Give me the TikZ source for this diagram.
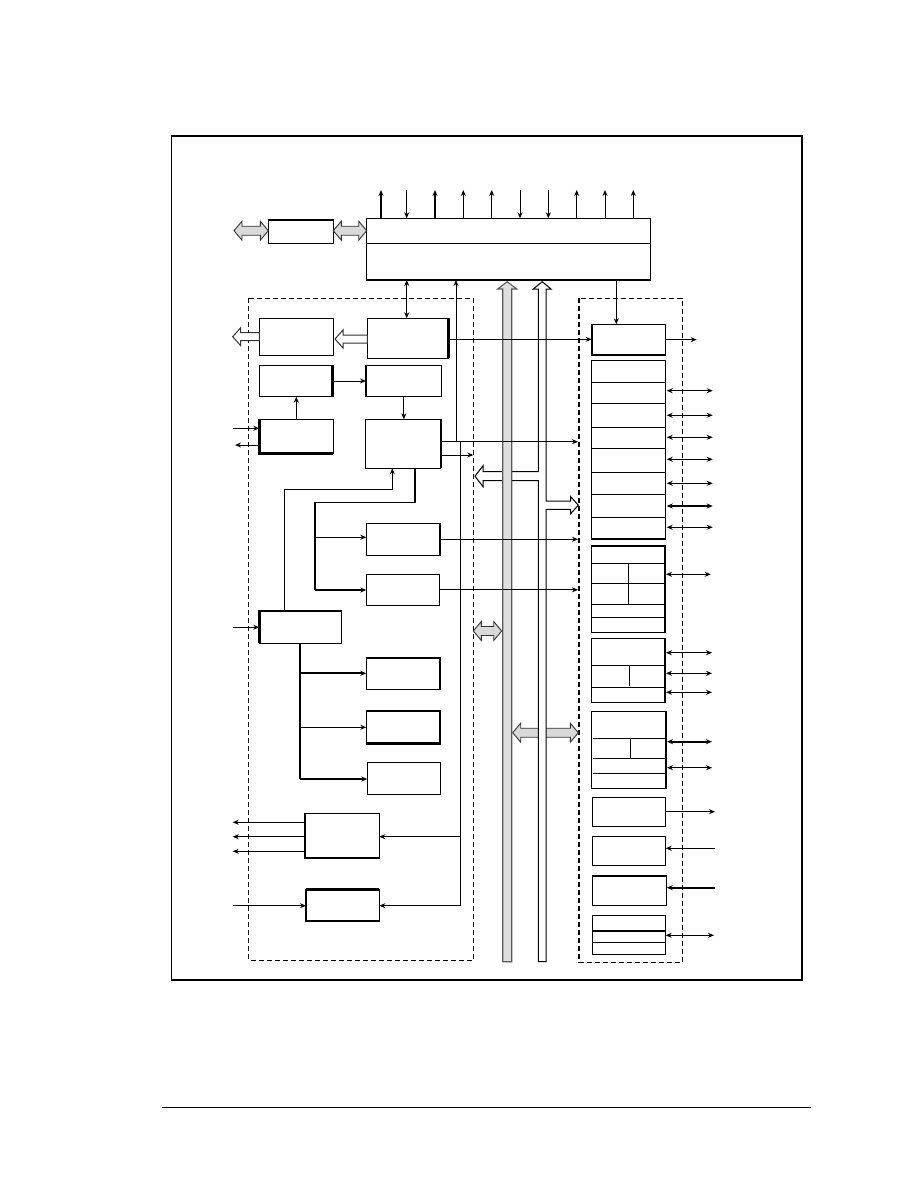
\documentclass[tikz,border=0pt]{standalone}
\usetikzlibrary{arrows.meta}
\newcommand{\bx}[5]{\node[box, anchor=north west, minimum width={#4-#2}, minimum height={#5-#3}] (#1) at (#2,#3) {};}
\newcommand{\hdarrow}[3]{\filldraw[fill=gray!30, draw=black!80, line width=0.9] (#1,#3) -- ({#1+8},{#3-9.5}) -- ({#1+8},{#3-4.5}) -- ({#2-8},{#3-4.5}) -- ({#2-8},{#3-9.5}) -- (#2,#3) -- ({#2-8},{#3+9.5}) -- ({#2-8},{#3+4.5}) -- ({#1+8},{#3+4.5}) -- ({#1+8},{#3+9.5}) -- cycle;}
\newcommand{\lwarrow}[3]{\filldraw[fill=white, draw=black!80, line width=1] (#1,#3) -- ({#1+8},{#3-9}) -- ({#1+8},{#3-4}) -- (#2,{#3-4}) -- (#2,{#3+4}) -- ({#1+8},{#3+4}) -- ({#1+8},{#3+9}) -- cycle;}
\tikzset{
  box/.style={draw, line width=1.1, inner sep=0pt, outer sep=0pt, fill=white},
  thk/.style={line width=2.4},
  ln/.style={line width=0.9},
  arr/.style={ln, -{Stealth[length=6pt,width=5pt]}},
  darr/.style={ln, {Stealth[length=6pt,width=5pt]}-{Stealth[length=6pt,width=5pt]}},
  dbox/.style={dashed, line width=1, dash pattern=on 5pt off 3pt},
  route/.style={line width=1.3},
}
\begin{document}
\begin{tikzpicture}[x=1pt, y=-1pt]
\useasboundingbox (0,0) rectangle (918,1188);
% outer frame and footer
\draw[line width=1.2] (171.5,136) rectangle (802,980);
\draw[line width=1] (162,1107) -- (811,1107);
% dashed groups
\draw[dbox] (248.3,298.3) rectangle (473.3,960);
\draw[dbox, line width=1.4] (579,298.3) rectangle (682.3,962.7);
% top blocks
\bx{top}{366.7}{218.3}{650.3}{280}
\draw[ln] (top.west |- 0,243.3) -- (top.east |- 0,243.3);
\bx{sm}{268.3}{220}{333.3}{243.3}
\draw[thk] (sm.north west) -- (sm.north east);
% left group boxes
\bx{A}{259.3}{318.3}{333.3}{355.3}
\bx{B}{367.3}{318.3}{448.3}{358.3}
\draw[thk] (B.north east) -- (B.south east);
\bx{C}{259.3}{365.3}{332.3}{396.7}
\draw[thk] (C.north east) -- (C.south east);
\bx{D}{366}{365.3}{441.7}{396.7}
\bx{E}{365.3}{419.3}{440.7}{468.3}
\draw[thk] (E.north east) -- (E.south east);
\bx{F}{259.3}{419.3}{333.3}{453.3}
\draw[thk] (F.north west) -- (F.south west) -- (F.south east);
\bx{J}{366.3}{523.3}{440}{555.3}
\draw[thk] (J.north east) -- (J.south east);
\bx{K}{366.3}{574.3}{439.3}{605.3}
\bx{L}{259.3}{610.7}{341.3}{643.3}
\draw[thk] (L.south west) -- (L.north west) -- (L.north east);
\bx{M}{366.3}{657.7}{440}{689.3}
\draw[thk] (M.north west) -- (M.north east) -- (M.south east);
\bx{N}{366.3}{711}{440}{743.3}
\draw[thk] (N.north east) -- (N.south east) -- (N.south west);
\bx{O}{367.3}{762.3}{440.7}{794.3}
\bx{P}{305}{813.3}{379.3}{858}
\draw[thk] (P.north west) -- (P.south west) -- (P.south east);
\bx{Q}{306}{889.3}{379.3}{921}
\draw[thk] (Q.north west) -- (Q.north east);
% right group boxes
\bx{G}{591.7}{324.3}{665.7}{355}
\draw[thk] (G.north west) -- (G.south west);
\bx{H}{591.7}{360.7}{665.7}{539}
\foreach \y in {382.3,403.3,427.3,448.3,472.3,494.3,517.3} \draw[ln] (H.west |- 0,\y) -- (H.east |- 0,\y);
\bx{R}{591.7}{546}{665}{632.3}
\draw[thk] (R.north east) -- (R.south east);
\foreach \y in {563.3,583.3,604.3,617.3} \draw[ln] (R.west |- 0,\y) -- (R.east |- 0,\y);
\draw[ln] (628.3,563.3) -- (628.3,604.3);
\bx{S}{591.7}{638.3}{665}{702.3}
\draw[thk] (S.north east) -- (S.south east);
\foreach \y in {665.7,687.3} \draw[ln] (S.west |- 0,\y) -- (S.east |- 0,\y);
\draw[ln] (629.3,665.7) -- (629.3,685.7);
\bx{T}{591.7}{711.7}{666}{788.3}
\foreach \y in {738.3,758.3,773.3} \draw[ln] (593.3,\y) -- (T.east |- 0,\y);
\draw[ln] (630.7,738.3) -- (630.7,758.3);
\bx{U}{592.3}{797.3}{665.7}{826.3}
\bx{V}{592.3}{836.7}{665.7}{865.3}
\bx{W}{592.3}{876}{666.7}{905.3}
\draw[thk] (W.north west) -- (W.north east);
\bx{X}{592.3}{915.3}{665.7}{954.3}
\draw[line width=2] (X.west |- 0,931) -- (X.east |- 0,931);
\draw[ln] (X.west |- 0,942.3) -- (X.east |- 0,942.3);
% gray double arrows
\hdarrow{234}{268.3}{230.7}
\hdarrow{333.3}{366.7}{230.7}
\hdarrow{473.3}{501.7}{631}
\hdarrow{512.7}{578.3}{732.7}
% white left arrows
\lwarrow{232.7}{259.3}{336.7}
\lwarrow{335}{367.3}{339}
% white bus with branches
\filldraw[fill=white, draw=black, line width=1] (538.3,961.7) -- (538.3,480.7) -- (483,480.7) -- (483,486.7) -- (475,476.2) -- (483,465.7) -- (483,471.7) -- (538.3,471.7) -- (538.3,289) -- (533.3,289) -- (542.2,281.7) -- (551,289) -- (546,289) -- (546,501) -- (570.7,501) -- (570.7,496.7) -- (578.3,505.2) -- (570.7,513.7) -- (570.7,509.3) -- (546,509.3) -- (546,961.7) -- cycle;
% gray bus
\filldraw[fill=gray!25, draw=black!65, line width=1.1] (502.7,961.7) -- (502.7,289) -- (497.7,289) -- (507.2,281.7) -- (516.7,289) -- (511.7,289) -- (511.7,961.7) -- cycle;
% top pins
\foreach \x in {463.3,491.7,576.7,605,633.3} \draw[arr] (\x,0 |- top.north) -- (\x,190);
\foreach \x in {381,435} \draw[arr, line width=2.2] (\x,0 |- top.north) -- (\x,190);
\foreach \x in {406.7,520,548.3} \draw[arr] (\x,190) -- (\x,0 |- top.north);
% top box to groups
\draw[darr] (406.7,0 |- top.south) -- (406.7,0 |- B.north);
\draw[arr] (616.3,0 |- top.south) -- (616.3,0 |- G.north);
\draw[arr] (456,441.7) -- (456,0 |- top.south);
% left group connectors
\draw[arr] (C.east) -- (D.west);
\draw[arr] (F.north) -- (F.north |- C.south);
\draw[arr] (D.south) -- (D.south |- E.north);
\draw[arr] (233.3,428.3) -- (F.west |- 0,428.3);
\draw[arr] (F.west |- 0,445) -- (235,445);
\draw[arr] (B.east |- 0,339.3) -- (G.west |- 0,339.3);
\draw[arr] (G.east) -- ++(31,0);
\draw[arr] (E.east |- 0,441.7) -- (578,441.7);
\draw[arr] (E.east |- 0,455) -- (473.3,455);
\draw[ln] (460.7,441.7) -- (460.7,905.7);
\draw[arr] (460.7,836.7) -- (P.east |- 0,836.7);
\draw[arr] (460.7,905.7) -- (Q.east |- 0,905.7);
\draw[arr, route] (284.3,0 |- L.north) -- (284.3,489.3) -- (392.3,489.3) -- (392.3,0 |- E.south);
\draw[route] (415,0 |- E.south) -- (415,502.3) -- (315,502.3) -- (315,590);
\draw[arr] (315,537.3) -- (J.west |- 0,537.3);
\draw[arr, route] (315,590) -- (K.west |- 0,590);
\draw[arr] (J.east) -- (578,0 |- J.east);
\draw[arr] (K.east) -- (578,0 |- K.east);
\draw[arr] (233.3,627.3) -- (L.west |- 0,627.3);
\draw[route] (300,0 |- L.south) -- (300,779);
\draw[arr, line width=2] (300,673.3) -- (M.west |- 0,673.3);
\draw[arr] (300,727.3) -- (N.west |- 0,727.3);
\draw[arr, route] (300,779) -- (O.west |- 0,779);
\foreach \y in {822.3,836.7,851.3} \draw[arr] (P.west |- 0,\y) -- (232.7,\y);
\draw[arr] (233,905.7) -- (Q.west |- 0,905.7);
% right group external pins
\foreach \y in {390.7,415.3,437.3,459.3,483.3,527.3} \draw[darr] (666.7,\y) -- (712.7,\y);
\draw[darr, line width=2] (666.7,506) -- (712.7,506);
\draw[darr] (666,574.3) -- (710.7,574.3);
\foreach \y in {652.7,673.3,692.3} \draw[darr] (666,\y) -- (712,\y);
\draw[darr, line width=2] (667,741.7) -- (712,741.7);
\draw[darr] (667,767.7) -- (712,767.7);
\draw[arr] (U.east |- 0,811.7) -- (715,811.7);
\draw[arr] (715,848.3) -- (V.east |- 0,848.3);
\draw[arr, line width=2.2] (715,887.7) -- (W.east |- 0,887.7);
\draw[darr] (X.east |- 0,935.3) -- (714,935.3);
\end{tikzpicture}
\end{document}
